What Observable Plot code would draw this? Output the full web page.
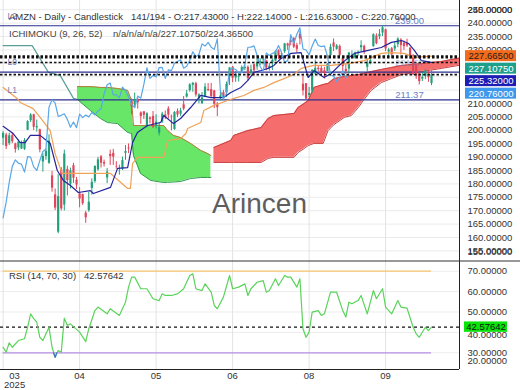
<!DOCTYPE html>
<html><head><meta charset="utf-8">
<script src="https://cdn.jsdelivr.net/npm/d3@7"></script>
<script src="https://cdn.jsdelivr.net/npm/@observablehq/plot@0.6"></script>
<style>
html,body{margin:0;padding:0;background:#fff;}
#chart{width:520px;height:390px;overflow:hidden;background:#fff;}
#chart svg{display:block;}
</style></head><body><div id="chart"></div>
<script>
const FONT = "'Liberation Sans', Arial, Helvetica, sans-serif";

// ---- candles (bar index 0..140) ----
const opens = [197.0,198.2,195.0,198.0,194.9,193.4,193.0,192.9,200.0,203.6,
205.8,200.9,200.2,188.2,190.2,187.7,183.0,175.9,162.0,185.2,
172.1,185.4,179.9,186.8,181.4,176.3,176.0,169.1,170.0,178.3,
180.9,185.3,190.1,188.0,182.2,191.0,191.4,186.5,184.9,185.6,
191.4,193.4,210.7,209.5,211.5,206.5,206.9,201.5,204.6,205.2,
201.4,198.9,203.1,205.7,208.0,205.2,200.3,207.1,206.0,209.5,
212.4,214.8,216.8,217.4,211.8,209.9,212.3,215.2,215.2,214.7,
209.8,212.1,214.0,213.9,219.9,223.5,219.5,219.7,221.8,223.0,
223.5,221.1,224.5,223.6,225.0,226.2,225.9,223.2,225.1,225.8,
229.7,228.5,229.3,232.2,233.4,234.2,231.6,235.8,217.2,217.4,
213.0,214.6,221.0,223.1,223.1,222.2,222.0,227.9,232.6,230.2,
231.3,227.0,222.7,222.8,227.6,227.0,228.6,230.8,231.3,223.5,
225.2,231.2,235.2,234.9,236.3,237.5,229.2,230.4,230.3,232.0,
233.7,232.5,232.4,230.6,227.8,224.2,221.1,219.1,220.1,221.0,
217.43];
const highs = [199.5,198.9,198.9,199.0,195.2,196.4,196.0,196.9,203.6,206.2,
206.0,203.8,200.4,191.3,193.0,198.3,184.7,178.1,183.4,186.1,
192.6,186.6,185.9,187.7,182.4,178.6,176.2,169.8,176.8,181.9,
186.7,189.9,190.6,188.9,185.8,192.6,192.9,188.3,187.0,190.0,
194.3,194.9,211.7,213.9,211.9,206.9,206.9,206.6,205.0,207.0,
205.8,202.9,206.7,207.2,208.8,205.7,207.0,208.0,208.2,212.6,
214.9,217.4,217.7,217.9,213.6,214.1,217.4,217.4,217.5,214.9,
210.4,214.3,214.9,218.0,223.3,223.8,221.9,221.2,224.0,224.3,
224.0,224.3,224.7,226.7,226.7,227.3,226.1,225.0,226.6,229.7,
230.0,228.7,232.4,232.5,234.1,234.6,232.5,236.9,220.4,217.4,
216.0,222.7,226.2,224.0,223.8,223.5,224.9,232.1,234.1,232.0,
231.8,227.3,224.8,229.1,229.6,229.2,229.6,233.4,231.8,226.6,
227.2,236.0,236.0,237.6,238.9,237.7,230.6,230.9,232.9,234.5,
234.2,233.3,234.0,230.9,228.3,224.5,221.7,221.4,222.6,222.5,
222.14];
const lows = [194.3,192.8,194.3,195.0,191.5,192.4,192.9,192.5,199.9,202.9,
199.9,199.3,191.6,184.4,188.8,187.3,176.9,170.0,161.4,169.9,
169.9,175.5,178.1,180.2,177.9,171.1,172.0,165.3,169.4,175.8,
180.2,184.7,185.9,186.3,180.1,186.9,186.9,185.5,183.3,185.0,
188.8,191.3,205.8,208.1,207.9,202.2,204.0,200.9,202.4,200.7,
200.5,197.9,202.6,204.0,204.2,199.8,200.0,204.8,205.2,207.3,
212.0,214.2,214.2,212.4,209.9,209.7,212.3,214.4,212.3,208.1,
205.1,211.0,211.1,212.3,216.7,217.8,217.9,218.0,221.4,222.2,
218.4,220.5,220.3,222.4,224.2,224.4,222.2,222.1,222.3,225.8,
226.4,227.3,228.7,229.8,231.5,230.5,228.9,231.8,212.8,211.4,
212.2,213.8,220.8,221.9,221.0,219.1,222.0,227.7,229.4,229.9,
227.4,220.9,220.8,220.9,227.3,226.6,227.6,229.3,228.3,221.5,
224.4,231.0,231.9,233.8,235.0,229.4,226.7,226.7,229.4,230.8,
228.1,229.8,230.9,226.4,220.4,219.0,216.9,218.2,218.9,217.9,
216.63];
const closes = [198.89,193.89,197.95,195.74,192.82,195.54,194.95,196.21,203.26,205.71,
201.13,201.36,192.72,190.26,192.17,196.01,178.41,171.00,175.26,170.66,
191.10,181.22,184.87,182.12,179.59,174.33,172.61,167.32,173.18,180.60,
186.54,188.99,187.70,187.39,184.42,190.20,189.98,186.35,185.01,188.71,
192.08,193.06,208.64,211.37,210.25,205.17,205.59,206.16,204.07,201.12,
203.10,200.99,206.02,204.72,205.70,205.01,206.65,205.71,207.23,207.91,
213.57,216.98,217.61,213.20,213.24,212.10,216.10,214.82,212.52,209.69,
208.47,212.77,211.99,217.12,223.30,219.39,220.46,219.92,223.41,223.47,
219.36,222.54,222.26,225.02,225.69,226.35,223.19,223.88,226.13,229.30,
227.47,228.29,232.23,231.44,232.79,231.01,230.19,234.11,214.75,211.65,
213.75,222.31,223.13,222.69,221.30,221.47,224.56,230.98,231.03,231.49,
228.01,223.81,221.95,228.84,227.94,228.71,229.12,231.60,229.00,225.34,
225.99,235.68,232.33,235.84,238.24,230.33,229.95,228.15,231.43,234.05,
231.62,231.23,231.48,227.63,220.71,220.21,218.15,219.78,222.17,219.57,
220.76];

// ---- Ichimoku lines: [bar index, price] ----
const tenkan = [[0,201.5],[3.3,198.8],[5.6,195.4],[7.2,195.4],[8.9,198.1],[12.1,198.1],[15.4,195.1],[17.7,185.0],[19.7,181.3],[22,179.4],[24.6,176.8],[28.5,177.5],[29.5,176.4],[35.1,178.7],[37.4,185.8],[40.7,186.1],[42.3,195.4],[43.9,199.2],[47.2,201.8],[51.5,202.9],[52.5,205.5],[55.7,202.5],[58,204.4],[61.3,208.5],[64.6,213.0],[67.9,212.2],[72.1,212.2],[74.4,214.1],[77.7,216.0],[80,218.6],[82,221.6],[84.3,222.3],[86.6,223.1],[88.5,224.2],[90.8,226.8],[94.1,228.7],[97.4,229.0],[99.7,219.7],[101.6,222.3],[104.9,219.7],[107.2,221.2],[110.5,224.9],[114.8,228.7],[119.3,229.8],[123.6,230.9],[126.9,232.8],[130.2,233.5],[132.5,232.4],[134.4,229.8],[136.7,226.0],[140,225.32]];
const kijun = [[0,216.0],[4.6,211.9],[5.6,210.4],[9.8,208.1],[12.1,204.8],[15.4,199.9],[17,191.3],[18.7,185.8],[19.3,183.9],[35.1,183.9],[40.7,178.3],[41.6,178.3],[42.3,187.6],[43.9,189.9],[52.5,189.9],[53.8,196.2],[58,196.9],[59.7,198.8],[60.3,200.7],[64.6,202.9],[65.6,207.4],[68.9,209.3],[73.4,211.1],[75.4,211.9],[78.7,213.0],[82,214.9],[85.2,216.0],[88.5,217.8],[91.8,219.3],[95.1,220.8],[97.4,223.1],[101.6,224.2],[107.2,224.2],[112.8,224.9],[118,226.0],[123.6,228.7],[126.9,229.0],[131.1,228.7],[134.4,227.2],[140,227.665]];
const spanAEarly = [[0,231.6],[9.5,231.6],[14.8,221.6],[18.7,220.4],[23,211.9],[24.3,211.5]];
const cloudIdx = [24.3,28.5,31.8,34.1,37.4,40.7,42.0,42.6,43.9,44.9,48.2,52.5,53.8,55.7,58,61.3,64.6,66.9,67.9,68.9,74.4,75.4,80,84.3,86.6,88.5,95.1,96.4,98.4,99.7,101.6,104.6,106.2,108.2,111.5,113.8,116.1,117.7,120.3,123.6,126.9,130.2,136.7,143.3,149.8];
const spanA = [211.5,207.4,204.4,202.9,202.5,199.2,198.8,190.6,186.9,183.9,181.3,180.5,180.6,180.7,180.9,182.0,182.4,182.4,182.4,193.6,196.2,198.1,199.9,201.0,204.4,205.5,206.3,208.5,210.0,211.1,216.0,217.1,217.5,219.3,220.1,220.4,220.8,221.2,221.9,222.7,223.4,224.2,224.9,225.7,227.1];
const spanB = [216.3,216.3,216.0,216.0,215.6,214.9,211.1,201.8,201.8,201.8,201.8,201.8,199.9,198.1,197.3,195.1,192.5,191.3,190.6,188.0,188.0,188.0,188.0,188.0,189.5,189.9,189.9,191.7,193.2,194.3,195.1,195.1,199.9,202.2,204.8,205.5,208.5,211.1,214.9,217.8,219.3,220.8,221.9,223.1,224.4];

// ---- RSI: [bar index, value] ----
const rsiPts = [[0,32.7],[1,30.3],[2,34.9],[3,32.7],[5,36],[7,36.9],[8,42.5],[9,49.1],[10,46.7],[11,45],[12,37.6],[13,36],[15,42.5],[16,32.7],[17,27.8],[18,31.1],[19,30.3],[20,47],[21,43.4],[22,44.2],[25,40.1],[27,35.5],[28,41.8],[30,50.7],[31,52.4],[34,49.1],[35,51.6],[38,48.3],[39,51.6],[40,54.8],[41,62.2],[42,67.1],[43,67.1],[45,61.4],[47,61.4],[49,56.5],[51,55.6],[52,58.9],[53,58.1],[55,58.1],[57,58.9],[59,61.4],[61,67.9],[62,68.7],[63,61.4],[65,60.5],[66,63.8],[68,59.7],[69,53.2],[70,51.6],[72,57.3],[74,67.9],[75,61.4],[77,62.2],[79,63.8],[80,58.1],[81,61.4],[83,64.6],[85,65.4],[86,59.7],[87,60.5],[89,66.3],[90,63],[92,67.9],[93,67.1],[94,67.1],[96,62.2],[97,66.3],[98,41.8],[99,37.6],[100,40.1],[101,49.9],[103,50.7],[104,48.3],[105,49.1],[107,59.7],[109,59.7],[111,50.7],[112,47.5],[113,54.8],[114,54],[116,55.6],[117,58.1],[119,49.1],[121,60.5],[122,56.5],[124,61.4],[125,52.4],[127,49.1],[129,55.6],[130,52.4],[132,51.9],[134,42.5],[135,39.3],[136,37.6],[138,42.5],[139,40.9],[140,42.57642]];
const rsiLow = [[16.45,30],[17,27.8],[17.55,30]];
const rsiLast = 42.57642;

const levels = [{name:"L2", v:239.00}, {name:"L1", v:211.37}, {name:"L0", v:221.67}];
const curVals = [227.665, 227.1075, 225.32, 220.76];
const priceTicks = [155,160,165,170,175,180,185,190,195,200,205,210,215,220,225,230,235,240,245];
const hiddenTicks = [215,220,225]; // covered by the value boxes in the reference
const rsiTicks = [30,50,60,70];
const rsiTickUnderBox = [40];
const tickIdx = [0,25,50,75,100,125];
const tickLabels = ["03","04","05","06","08","09"];

// ---- scales ----
const xD = [-0.85, 149.15];
const PW = 459;
const upx = (xD[1]-xD[0])/PW;
const yD = [151.42, 248.43];
const ppu = 260/(yD[1]-yD[0]);
const yR = [21.8, 75.25];
const rpu = 109/(yR[1]-yR[0]);

const candles = closes.map((c,i)=>({i, o:opens[i], h:highs[i], l:lows[i], c,
  col: c >= opens[i] ? "#23a07b" : "#e0465a"}));
const chikou = closes.slice(27).map((v,k)=>({i:k, v}));
const cloud = cloudIdx.map((i,k)=>({i, a:spanA[k], b:spanB[k]}));
const green = cloud.filter(d=>d.b >= d.a);
const red = cloud.filter(d=>d.a > d.b);

const boxDefs = [
  {v:227.665, fill:"#f26a1b", ink:"#1e1e1e"},
  {v:227.1075, fill:"#1e9f8c", ink:"#ffffff"},
  {v:225.32, fill:"#1d1db5", ink:"#ffffff"},
  {v:220.76, fill:"#3e98ec", ink:"#ffffff"}
];
let prev = Infinity;
const step = 12.5/ppu;
const boxes = boxDefs.map(d=>{ const p = Math.min(d.v, prev - step); prev = p; return {...d, p, label: d.v.toFixed(5)}; });

const last = closes.length - 1;
const header = `AMZN - Daily - Candlestick\u00a0\u00a0\u00a0${closes.length}/194 - O:${opens[last].toFixed(5)} - H:${highs[last].toFixed(5)} - L:${lows[last].toFixed(5)} - C:${closes[last].toFixed(5)}`;
const ichiHeader = `ICHIMOKU (9, 26, 52)\u00a0\u00a0\u00a0\u00a0n/a/n/a/n/a/${(227.1075).toFixed(5)}/${(224.365).toFixed(5)}`;

const main = Plot.plot({
  width: 520, height: 260, marginLeft: 0, marginRight: 61, marginTop: 0, marginBottom: 0,
  x: {domain: xD, axis: null},
  y: {domain: yD, axis: null},
  color: {type: "identity"},
  style: {fontFamily: FONT, fontSize: "9.5px", background: "#fff"},
  marks: [
    Plot.ruleY(priceTicks, {stroke: "#ebebeb"}),
    Plot.ruleX(tickIdx, {stroke: "#e3e3e3"}),
    Plot.text(["Arincen"], {frameAnchor: "top-left", dx: 259, dy: 193, textAnchor: "middle", fontSize: 28, fill: "#5e5e5e"}),
    Plot.areaY(green, {x: "i", y1: "a", y2: "b", fill: "#68e668", clip: true}),
    Plot.areaY(red, {x: "i", y1: "a", y2: "b", fill: "#f56d6d", clip: true}),
    Plot.line(green, {x: "i", y: "b", stroke: "#b7773c", strokeWidth: 1, clip: true}),
    Plot.line(green, {x: "i", y: "a", stroke: "#2f9a4c", strokeWidth: 1, clip: true}),
    Plot.line(red, {x: "i", y: "a", stroke: "#c94343", strokeWidth: 1, clip: true}),
    Plot.line(red, {x: "i", y: "b", stroke: "#c94343", strokeWidth: 1, clip: true}),
    Plot.line(spanAEarly, {x: d=>d[0], y: d=>d[1], stroke: "#5b9f97", strokeWidth: 1.2, clip: true}),
    Plot.ruleY(levels, {y: "v", stroke: "#2b2f8f", strokeWidth: 1.2}),
    Plot.ruleX(candles, {x: "i", y1: "l", y2: "h", stroke: "col", strokeWidth: 1, clip: true}),
    Plot.ruleX(candles, {x: "i", y1: d=>Math.min(d.o,d.c), y2: d=>Math.max(d.o,d.c), stroke: "col", strokeWidth: 2.2, clip: true}),
    Plot.line(kijun, {x: d=>d[0], y: d=>d[1], stroke: "#f0a257", strokeWidth: 1.2, clip: true}),
    Plot.line(tenkan, {x: d=>d[0], y: d=>d[1], stroke: "#24249c", strokeWidth: 1.2, clip: true}),
    Plot.line(chikou, {x: "i", y: "v", stroke: "#5aa7e8", strokeWidth: 1.2, clip: true}),
    Plot.ruleY(curVals, {stroke: "#111", strokeDasharray: "2.5,2", strokeWidth: 1.6}),
    Plot.text(levels, {x: xD[0], y: "v", dx: 7, dy: -9.5, text: "name", textAnchor: "start", fontSize: 8.5, fill: "#6b7bb5"}),
    Plot.text(levels.filter(d=>d.name !== "L0"), {x: xD[1], y: "v", dx: -50, dy: -4.8, text: d=>d.v.toFixed(2), fontSize: 9.5, fill: "#6a80c8"}),
    Plot.text(levels.filter(d=>d.name === "L0"), {x: xD[1], y: "v", dx: -50, dy: -9, text: d=>d.v.toFixed(2), fontSize: 9.5, fill: "#6a80c8", fillOpacity: 0.55}),
    Plot.ruleX([xD[1]], {stroke: "#222"}),
    Plot.text(priceTicks.filter(t=>!hiddenTicks.includes(t)), {x: xD[1], y: d=>d, dx: 8, text: d=>d.toFixed(5), textAnchor: "start", fontSize: 9.5, fill: "#333"}),
    Plot.text(["150.00000"], {frameAnchor: "bottom-right", dx: 8, dy: -6, textAnchor: "start", fontSize: 9.5, fill: "#333"}),
    Plot.text(["250.00000"], {frameAnchor: "top-right", dx: 8, dy: 6, textAnchor: "start", fontSize: 9.5, fill: "#333"}),
    Plot.rect(boxes, {x1: xD[1] + 6*upx, x2: xD[1] + 57*upx, y1: d=>d.p - 5.5/ppu, y2: d=>d.p + 5.5/ppu, fill: "fill"}),
    Plot.text(boxes, {x: xD[1] + 31.5*upx, y: "p", text: "label", fill: "ink", fontSize: 9.5}),
    Plot.text([header], {frameAnchor: "top-left", dx: 8.5, dy: 12.8, textAnchor: "start", fontSize: 9.5, fill: "#333"}),
    Plot.text([ichiHeader], {frameAnchor: "top-left", dx: 8.5, dy: 30, textAnchor: "start", fontSize: 9.5, fill: "#444"})
  ]
});

const ticks = tickIdx.map((i,k)=>({i, label: tickLabels[k]}));
const rsiPlot = Plot.plot({
  width: 520, height: 130, marginLeft: 0, marginRight: 61, marginTop: 0, marginBottom: 21,
  x: {domain: xD, axis: null},
  y: {domain: yR, axis: null},
  color: {type: "identity"},
  style: {fontFamily: FONT, fontSize: "9.5px", background: "#fff"},
  marks: [
    Plot.ruleY([...rsiTicks, ...rsiTickUnderBox], {stroke: "#ececec"}),
    Plot.ruleX(tickIdx, {stroke: "#e3e3e3"}),
    Plot.ruleY([70], {x1: 0, x2: last, stroke: "#f6c36e", strokeWidth: 1.3}),
    Plot.ruleY([30], {x1: 0, x2: last, stroke: "#b48fe6", strokeWidth: 1.3}),
    Plot.ruleY([rsiLast], {stroke: "#111", strokeDasharray: "3,3", strokeWidth: 1.2}),
    Plot.line(rsiPts, {x: d=>d[0], y: d=>d[1], stroke: "#5ad35a", strokeWidth: 1.2, clip: true}),
    Plot.line(rsiLow, {x: d=>d[0], y: d=>d[1], stroke: "#4a6fd0", strokeWidth: 1.2, clip: true}),
    Plot.ruleX([xD[1]], {stroke: "#222"}),
    Plot.ruleY([yR[0]], {stroke: "#222"}),
    Plot.ruleY([yR[1]], {x1: xD[0], x2: xD[0] + 520*upx, stroke: "#333", dy: 0.5}),
    Plot.text(rsiTicks, {x: xD[1], y: d=>d, dx: 8, text: d=>d.toFixed(5), textAnchor: "start", fontSize: 9.5, fill: "#333"}),
    Plot.text(rsiTickUnderBox, {x: xD[1], y: d=>d, dx: 8, dy: 2.5, text: d=>d.toFixed(5), textAnchor: "start", fontSize: 9.5, fill: "#333"}),
    Plot.text(["20.00000"], {frameAnchor: "bottom-right", dx: 8, dy: -6, textAnchor: "start", fontSize: 9.5, fill: "#333"}),
    Plot.rect([rsiLast], {x1: xD[1] + 5*upx, x2: xD[1] + 48*upx, y1: d=>d - 5.2/rpu, y2: d=>d + 5.2/rpu, fill: "#0be40b"}),
    Plot.text([rsiLast], {x: xD[1] + 26.5*upx, y: d=>d, text: d=>d.toFixed(5), fontSize: 9.5, fill: "#111"}),
    Plot.text([`RSI (14, 70, 30)\u00a0\u00a0\u00a0${rsiLast.toFixed(5)}`], {frameAnchor: "top-left", dx: 8.5, dy: 12, textAnchor: "start", fontSize: 9.5, fill: "#333"}),
    Plot.text(ticks.slice(1), {x: "i", y: yR[0], dy: 6.5, text: "label", fontSize: 9.5, fill: "#333"}),
    Plot.text(ticks.slice(0,1), {x: "i", y: yR[0], dy: 6.5, dx: 11.5, text: "label", fontSize: 9.5, fill: "#333"}),
    Plot.text(["2025"], {x: 0, y: yR[0], dy: 15, dx: 11.5, text: d=>d, fontSize: 9.5, fill: "#333"})
  ]
});

const root = document.getElementById("chart");
root.appendChild(main);
root.appendChild(rsiPlot);
</script>
</body></html>
